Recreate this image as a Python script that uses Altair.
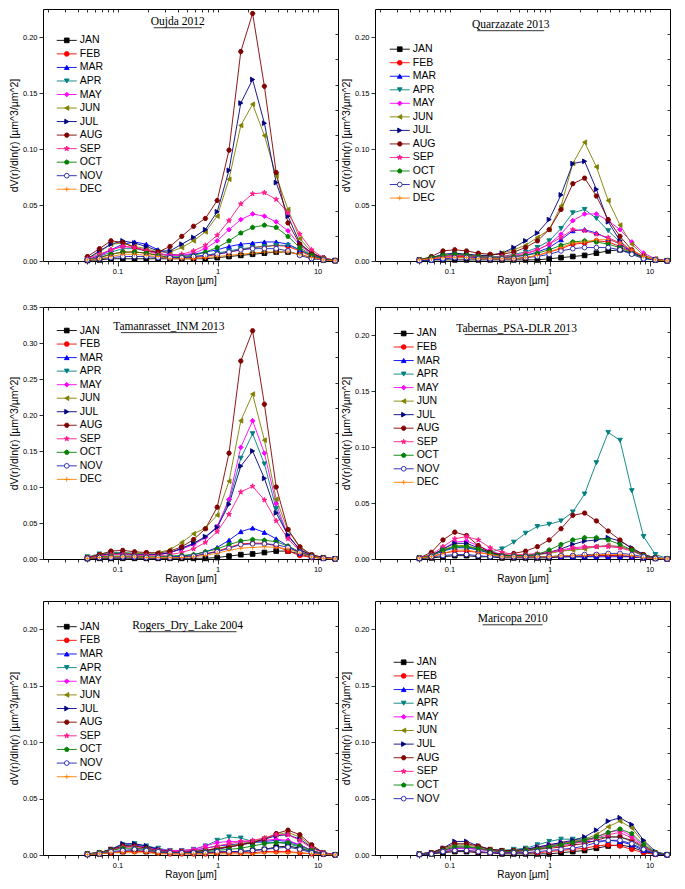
import altair as alt
import pandas as pd

# AERONET size-distribution radius bins (µm)
RADII = [0.050, 0.066, 0.086, 0.113, 0.148, 0.194, 0.255, 0.335, 0.439, 0.576, 0.756,
         0.992, 1.302, 1.708, 2.241, 2.940, 3.857, 5.061, 6.641, 8.713, 11.432, 15.000]

MONTHS = ["JAN", "FEB", "MAR", "APR", "MAY", "JUN", "JUL", "AUG", "SEP", "OCT", "NOV", "DEC"]
COLORS = ["#000000", "#ff0000", "#0000ff", "#008080", "#ff00ff", "#808000",
          "#000080", "#800000", "#ff1a8c", "#008000", "#2020b0", "#ff8000"]
FILLS = ["#000000", "#ff0000", "#0000ff", "#008080", "#ff00ff", "#808000",
         "#000080", "#800000", "#ff1a8c", "#008000", "#ffffff", "#ff8000"]
SHAPES = ["square", "circle", "triangle-up", "triangle-down", "diamond", "triangle-left",
          "triangle-right",
          "M-1,0L-0.5,-0.87L0.5,-0.87L1,0L0.5,0.87L-0.5,0.87Z",
          "M0,-1.1L0.26,-0.36L1.05,-0.34L0.42,0.14L0.65,0.89L0,0.44L-0.65,0.89L-0.42,0.14L-1.05,-0.34L-0.26,-0.36Z",
          "M0,-1L0.95,-0.31L0.59,0.81L-0.59,0.81L-0.95,-0.31Z",
          "circle",
          "M-1,0L1,0M0,-1L0,1"]

OUJDA = {
    "JAN": [.0005, .001, .002, .002, .002, .002, .002, .002, .002, .002, .002, .003, .004, .005, .006, .007, .008, .008, .006, .003, .001, .0002],
    "FEB": [.001, .003, .006, .008, .008, .007, .005, .003, .003, .003, .004, .006, .008, .010, .012, .013, .014, .013, .009, .004, .0015, .0003],
    "MAR": [.001, .005, .010, .015, .017, .015, .010, .006, .005, .006, .008, .010, .013, .015, .016, .017, .017, .015, .010, .005, .002, .0005],
    "APR": [.001, .004, .008, .011, .011, .009, .007, .004, .003, .004, .005, .007, .009, .011, .012, .013, .014, .014, .010, .005, .002, .0005],
    "MAY": [.001, .004, .010, .013, .012, .010, .007, .005, .005, .007, .011, .018, .028, .037, .042, .040, .035, .027, .014, .006, .002, .0004],
    "JUN": [.002, .008, .015, .016, .013, .011, .008, .008, .012, .018, .026, .040, .073, .121, .140, .112, .076, .046, .020, .008, .002, .0005],
    "JUL": [.002, .009, .015, .018, .016, .013, .009, .009, .015, .021, .028, .044, .081, .141, .162, .123, .070, .040, .016, .007, .002, .0005],
    "AUG": [.004, .011, .018, .0165, .012, .009, .008, .013, .022, .031, .038, .054, .099, .187, .221, .156, .079, .034, .015, .007, .003, .0005],
    "SEP": [.002, .006, .010, .013, .012, .009, .006, .005, .006, .009, .014, .023, .036, .051, .060, .061, .055, .043, .024, .010, .003, .0005],
    "OCT": [.001, .003, .006, .008, .008, .007, .005, .003, .004, .005, .008, .012, .018, .025, .030, .032, .030, .022, .012, .005, .002, .0004],
    "NOV": [.001, .002, .003, .004, .004, .004, .003, .003, .003, .004, .005, .006, .008, .010, .011, .011, .011, .009, .005, .002, .001, .0002],
    "DEC": [.001, .002, .004, .006, .006, .005, .004, .002, .002, .002, .003, .004, .005, .006, .007, .008, .008, .008, .006, .003, .001, .0002],
}

QUARZAZATE = {
    "JAN": [.0005, .001, .001, .001, .001, .001, .001, .001, .001, .001, .001, .002, .003, .004, .005, .007, .009, .010, .007, .003, .001, .0002],
    "FEB": [.001, .002, .003, .004, .004, .003, .002, .002, .002, .003, .005, .008, .011, .015, .016, .018, .017, .013, .008, .003, .001, .0002],
    "MAR": [.0005, .001, .002, .003, .003, .003, .002, .003, .004, .005, .008, .012, .019, .027, .028, .025, .020, .015, .008, .003, .001, .0002],
    "APR": [.001, .002, .004, .005, .005, .004, .004, .004, .006, .008, .012, .018, .029, .043, .046, .038, .027, .017, .008, .003, .001, .0002],
    "MAY": [.001, .002, .004, .005, .005, .004, .003, .003, .004, .006, .010, .015, .024, .036, .042, .042, .036, .028, .017, .007, .002, .0003],
    "JUN": [.001, .003, .005, .006, .006, .005, .005, .007, .010, .014, .021, .028, .049, .087, .106, .084, .054, .032, .015, .005, .002, .0003],
    "JUL": [.001, .003, .006, .007, .006, .005, .005, .007, .012, .018, .025, .037, .059, .087, .089, .064, .035, .018, .008, .003, .001, .0002],
    "AUG": [.001, .004, .009, .010, .009, .007, .006, .006, .008, .012, .018, .028, .046, .069, .074, .058, .037, .022, .010, .004, .001, .0002],
    "SEP": [.001, .002, .004, .005, .005, .004, .003, .004, .005, .007, .010, .015, .021, .028, .027, .024, .021, .016, .009, .004, .001, .0002],
    "OCT": [.001, .003, .005, .006, .005, .004, .003, .003, .004, .005, .007, .010, .014, .017, .018, .017, .015, .012, .007, .003, .001, .0002],
    "NOV": [.0005, .001, .002, .003, .003, .002, .002, .002, .002, .003, .004, .006, .009, .011, .012, .012, .012, .010, .006, .002, .001, .0002],
    "DEC": [.001, .002, .003, .003, .003, .002, .002, .002, .002, .003, .005, .008, .012, .016, .017, .019, .019, .016, .010, .004, .001, .0002],
}

TAMANRASSET = {
    "JAN": [.0005, .001, .001, .001, .001, .001, .001, .001, .001, .001, .001, .002, .004, .006, .007, .009, .011, .011, .007, .003, .001, .0002],
    "FEB": [.001, .002, .003, .003, .003, .002, .002, .002, .003, .004, .007, .011, .016, .021, .022, .022, .018, .011, .005, .002, .001, .0002],
    "MAR": [.001, .002, .003, .003, .003, .002, .002, .003, .004, .006, .010, .016, .026, .038, .043, .037, .028, .018, .008, .003, .001, .0002],
    "APR": [.003, .007, .009, .009, .008, .007, .006, .009, .014, .021, .030, .044, .080, .140, .174, .132, .070, .032, .013, .005, .002, .0004],
    "MAY": [.002, .005, .007, .008, .007, .006, .006, .009, .014, .020, .030, .045, .083, .155, .192, .147, .077, .032, .013, .005, .002, .0004],
    "JUN": [.002, .006, .008, .008, .008, .008, .009, .013, .023, .035, .043, .061, .108, .192, .229, .165, .083, .040, .016, .005, .002, .0004],
    "JUL": [.002, .005, .007, .007, .006, .006, .006, .009, .015, .022, .031, .044, .076, .129, .150, .112, .064, .033, .013, .005, .002, .0004],
    "AUG": [.002, .006, .011, .012, .010, .009, .008, .011, .017, .027, .042, .072, .147, .275, .317, .215, .100, .041, .017, .006, .002, .0005],
    "SEP": [.002, .004, .006, .006, .005, .005, .004, .006, .009, .014, .023, .038, .062, .093, .101, .082, .053, .028, .011, .004, .001, .0003],
    "OCT": [.001, .003, .004, .004, .004, .003, .003, .004, .005, .006, .010, .014, .020, .025, .027, .026, .024, .018, .010, .004, .001, .0002],
    "NOV": [.001, .002, .002, .003, .003, .002, .002, .002, .003, .004, .007, .010, .015, .020, .021, .021, .020, .016, .009, .003, .001, .0002],
    "DEC": [.001, .002, .003, .003, .003, .002, .002, .002, .002, .003, .005, .008, .012, .015, .016, .017, .016, .014, .008, .003, .001, .0002],
}

TABERNAS = {
    "JAN": [.0005, .001, .002, .003, .003, .002, .002, .001, .001, .001, .001, .001, .002, .002, .002, .003, .003, .003, .002, .001, .0005, .0001],
    "FEB": [.001, .002, .005, .007, .007, .006, .004, .002, .002, .002, .002, .002, .002, .003, .003, .003, .003, .003, .002, .001, .0005, .0001],
    "MAR": [.001, .003, .007, .010, .010, .008, .005, .003, .002, .002, .002, .002, .002, .002, .002, .002, .002, .002, .002, .001, .0005, .0001],
    "APR": [.001, .004, .008, .010, .011, .008, .006, .009, .015, .023, .029, .031, .034, .042, .058, .086, .113, .106, .061, .020, .004, .0005],
    "MAY": [.001, .003, .009, .015, .016, .012, .007, .004, .003, .003, .004, .006, .007, .009, .010, .011, .012, .011, .008, .003, .001, .0002],
    "JUN": [.001, .003, .008, .012, .012, .009, .006, .003, .003, .003, .004, .005, .007, .008, .009, .011, .012, .011, .008, .003, .001, .0002],
    "JUL": [.001, .003, .009, .014, .014, .010, .006, .003, .003, .003, .004, .006, .009, .013, .016, .017, .019, .016, .010, .004, .001, .0002],
    "AUG": [.001, .006, .017, .024, .021, .012, .006, .004, .005, .007, .011, .017, .027, .039, .041, .034, .025, .017, .009, .004, .001, .0002],
    "SEP": [.001, .004, .011, .018, .020, .017, .010, .006, .004, .004, .005, .006, .008, .010, .011, .011, .011, .010, .007, .003, .001, .0002],
    "OCT": [.001, .003, .008, .011, .011, .009, .005, .003, .003, .003, .004, .008, .013, .017, .019, .019, .017, .013, .008, .003, .001, .0002],
    "NOV": [.0005, .002, .003, .004, .004, .003, .002, .002, .002, .002, .002, .002, .003, .003, .004, .004, .005, .005, .004, .002, .0005, .0001],
    "DEC": [.001, .002, .005, .008, .008, .006, .004, .002, .002, .002, .002, .002, .003, .003, .003, .004, .004, .004, .003, .001, .0005, .0001],
}

ROGERS = {
    "JAN": [.0005, .001, .002, .003, .004, .003, .002, .002, .002, .002, .002, .002, .003, .003, .004, .005, .007, .008, .006, .003, .001, .0002],
    "FEB": [.0005, .001, .002, .003, .003, .003, .002, .001, .001, .001, .001, .002, .002, .002, .002, .003, .003, .003, .002, .001, .0005, .0001],
    "MAR": [.001, .002, .004, .008, .009, .007, .005, .003, .003, .004, .006, .008, .009, .010, .011, .012, .013, .012, .009, .004, .001, .0002],
    "APR": [.001, .002, .005, .009, .010, .008, .006, .004, .004, .005, .008, .013, .016, .015, .012, .011, .011, .010, .007, .003, .001, .0002],
    "MAY": [.001, .002, .004, .007, .008, .007, .005, .004, .004, .005, .008, .011, .012, .012, .012, .013, .014, .013, .009, .004, .001, .0002],
    "JUN": [.001, .002, .004, .007, .008, .006, .004, .003, .003, .003, .004, .006, .008, .010, .012, .015, .018, .020, .016, .008, .002, .0003],
    "JUL": [.001, .002, .005, .010, .010, .008, .005, .003, .003, .003, .004, .005, .007, .009, .011, .014, .017, .018, .014, .007, .002, .0003],
    "AUG": [.001, .002, .005, .008, .008, .006, .004, .003, .003, .003, .004, .006, .007, .009, .011, .014, .019, .022, .018, .009, .002, .0003],
    "SEP": [.001, .002, .004, .007, .007, .005, .004, .003, .003, .004, .006, .008, .010, .012, .013, .015, .018, .018, .013, .006, .002, .0003],
    "OCT": [.001, .002, .004, .006, .006, .005, .003, .002, .002, .002, .003, .004, .005, .006, .008, .010, .011, .011, .008, .004, .001, .0002],
    "NOV": [.0005, .001, .003, .004, .005, .004, .003, .002, .002, .002, .002, .003, .003, .003, .004, .005, .006, .007, .005, .002, .001, .0002],
    "DEC": [.0005, .001, .002, .002, .002, .002, .001, .001, .001, .001, .001, .001, .001, .001, .001, .002, .002, .002, .002, .001, .0005, .0001],
}

MARICOPA = {
    "JAN": [.0005, .001, .002, .003, .003, .002, .002, .001, .001, .001, .001, .001, .002, .003, .004, .006, .008, .009, .007, .003, .001, .0002],
    "FEB": [.0005, .001, .003, .004, .004, .003, .002, .002, .002, .002, .002, .003, .004, .005, .006, .008, .009, .008, .005, .002, .0005, .0001],
    "MAR": [.001, .002, .004, .006, .006, .005, .004, .003, .003, .004, .006, .008, .010, .011, .012, .012, .013, .012, .009, .004, .001, .0002],
    "APR": [.001, .002, .005, .008, .008, .006, .004, .004, .005, .006, .009, .012, .014, .014, .014, .015, .016, .016, .012, .006, .001, .0003],
    "MAY": [.001, .002, .004, .006, .006, .005, .004, .004, .004, .005, .007, .009, .011, .012, .013, .016, .020, .022, .017, .008, .002, .0004],
    "JUN": [.001, .002, .005, .009, .009, .007, .005, .004, .004, .005, .006, .008, .010, .012, .014, .018, .025, .030, .024, .011, .002, .0004],
    "JUL": [.001, .002, .006, .012, .012, .008, .005, .004, .004, .005, .007, .009, .011, .013, .016, .022, .030, .033, .027, .013, .003, .0005],
    "AUG": [.001, .002, .006, .010, .010, .008, .005, .004, .004, .004, .005, .006, .007, .009, .010, .013, .016, .016, .013, .007, .002, .0003],
    "SEP": [.001, .001, .004, .007, .007, .006, .004, .003, .003, .004, .005, .007, .008, .010, .012, .015, .018, .020, .015, .007, .002, .0004],
    "OCT": [.001, .001, .004, .007, .007, .006, .004, .003, .003, .004, .005, .007, .009, .011, .013, .016, .020, .023, .019, .009, .002, .0004],
    "NOV": [.0005, .001, .003, .004, .004, .003, .002, .002, .002, .002, .003, .004, .005, .006, .008, .011, .013, .013, .010, .005, .001, .0002],
}

# layout of each panel: title, data, y max, title centre x, title y, underline width, legend first-row y, legend x
PANELS = [
    ("Oujda 2012", OUJDA, 0.225, 137, 13, 48, 32, 14),
    ("Quarzazate 2013", QUARZAZATE, 0.225, 138, 16, 67, 41, 15),
    ("Tamanrasset_INM 2013", TAMANRASSET, 0.35, 128, 20, 96, 24, 14),
    ("Tabernas_PSA-DLR 2013", TABERNAS, 0.225, 144, 22, 104, 27, 19),
    ("Rogers_Dry_Lake 2004", ROGERS, 0.225, 147, 25, 98, 26, 14),
    ("Maricopa 2010", MARICOPA, 0.225, 140, 18, 60, 62, 19),
]

W = 295
HEIGHTS = [252, 252, 254]
XDOM = [0.018, 16]
XMAJOR = [0.1, 1, 10]
XMINOR = [m * 10.0 ** e for e in (-2, -1, 0) for m in range(2, 10)]


def panel(name, data, ymax, tcx, ty, tw, ly0, lx, H):
    months = list(data.keys())
    rows = []
    for m in months:
        for r, v in zip(RADII, data[m]):
            rows.append({"month": m, "r": r, "v": v})
    df = pd.DataFrame(rows)
    sx = W / 300.0
    sy = H / 257.0

    xs = alt.Scale(type="log", domain=XDOM, nice=False)
    ys = alt.Scale(domain=[0, ymax], nice=False, zero=True)
    yticks = [round(0.05 * k, 2) for k in range(int(round(ymax / 0.05)) + 1)]
    rticks = [ymax * k / 10 for k in range(11)]

    stroke = alt.Stroke("month:N", scale=alt.Scale(domain=MONTHS, range=COLORS), legend=None)
    fill = alt.Fill("month:N", scale=alt.Scale(domain=MONTHS, range=FILLS), legend=None)
    shape = alt.Shape("month:N", scale=alt.Scale(domain=MONTHS, range=SHAPES), legend=None)

    base = alt.Chart(df)
    lines = base.mark_line(strokeWidth=0.9).encode(
        x=alt.X("r:Q", scale=xs, axis=alt.Axis(orient="bottom", values=XMAJOR, format="~g",
                                              title="Rayon [µm]", tickSize=5, domain=False,
                                              grid=False, labelPadding=1, titlePadding=1)),
        y=alt.Y("v:Q", scale=ys, axis=alt.Axis(orient="left", values=yticks, format=".2f",
                                              title="dV(r)/dln(r) [µm^3/µm^2]", tickSize=4,
                                              domain=False, grid=False, labelPadding=2,
                                              titlePadding=3, titleFontSize=10.5)),
        stroke=stroke,
    )
    points = base.mark_point(filled=True, size=22, strokeWidth=0.9, opacity=1).encode(
        x=alt.X("r:Q", scale=xs, axis=alt.Axis(orient="top", values=XMINOR + XMAJOR, labels=False,
                                              title=None, tickSize=3, offset=-3, domain=False,
                                              grid=False)),
        y=alt.Y("v:Q", scale=ys, axis=alt.Axis(orient="right", values=rticks, labels=False,
                                              title=None, tickSize=3, offset=-3, domain=False,
                                              grid=False)),
        stroke=stroke, fill=fill, shape=shape,
    )
    minor = base.mark_point(opacity=0).encode(
        x=alt.X("r:Q", scale=xs, axis=alt.Axis(orient="bottom", values=XMINOR, labels=False,
                                              title=None, tickSize=3, domain=False, grid=False)),
        y=alt.Y("v:Q", scale=ys, axis=None),
    )

    n = len(months)
    leg_df = pd.DataFrame({"month": months})
    y0 = ly0 * sy
    ly = alt.Y("month:N", scale=alt.Scale(type="point", domain=months,
                                          range=[y0, y0 + (n - 1) * 13.8 * sy], padding=0),
               axis=None)
    lxp = lx * sx
    leg_rule = alt.Chart(leg_df).mark_rule(strokeWidth=0.9).encode(
        x=alt.value(lxp), x2=alt.value(lxp + 20), y=ly, stroke=stroke)
    leg_pts = alt.Chart(leg_df).mark_point(filled=True, size=22, strokeWidth=0.9, opacity=1).encode(
        x=alt.value(lxp + 10), y=ly, stroke=stroke, fill=fill, shape=shape)
    leg_txt = alt.Chart(leg_df).mark_text(align="left", baseline="middle", fontSize=10.5,
                                          font="Liberation Sans", color="black").encode(
        x=alt.value(lxp + 23), y=ly, text="month:N")

    tdf = pd.DataFrame({"t": [name]})
    title = alt.Chart(tdf).mark_text(align="center", baseline="middle", fontSize=11.5,
                                     font="Liberation Serif", color="black").encode(
        x=alt.value(tcx * sx), y=alt.value(ty * sy), text="t:N")
    underline = alt.Chart(tdf).mark_rule(color="black", strokeWidth=0.8).encode(
        x=alt.value(tcx * sx - tw / 2), x2=alt.value(tcx * sx + tw / 2), y=alt.value(ty * sy + 6))

    return alt.layer(lines, points, minor, leg_rule, leg_pts, leg_txt, title, underline).resolve_scale(
        x="independent", y="independent").properties(width=W, height=H)


charts = [panel(*p, H=HEIGHTS[i // 2]) for i, p in enumerate(PANELS)]
rows = [alt.hconcat(charts[2 * i], charts[2 * i + 1], spacing=0) for i in range(3)]
chart = alt.vconcat(*rows, spacing=16).properties(
    padding={"left": 0, "top": 0, "right": 0, "bottom": 0}
).configure_view(stroke="black", strokeWidth=1).configure_axis(
    labelFont="Liberation Sans", titleFont="Liberation Sans", labelFontSize=7.5,
    titleFontSize=10, titleFontWeight="normal", labelColor="black", titleColor="black",
    tickColor="black", tickWidth=0.8,
)

chart.save("out.html", embed_options={"renderer": "svg", "actions": False})
